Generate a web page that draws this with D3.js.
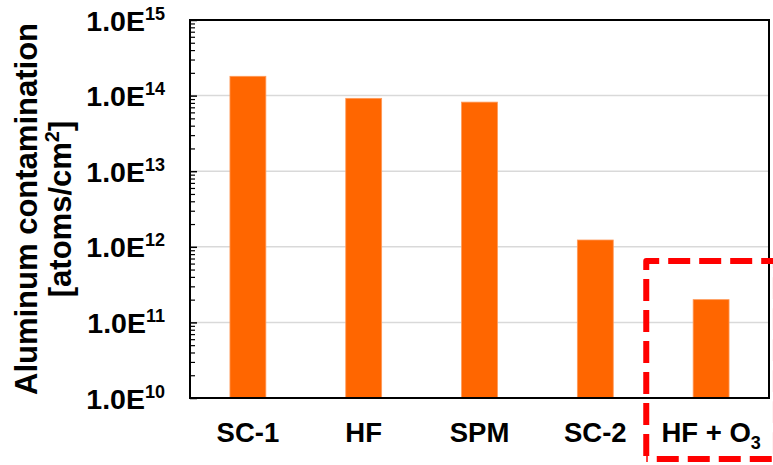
<!DOCTYPE html>
<html>
<head>
<meta charset="utf-8">
<script src="https://cdn.jsdelivr.net/npm/d3@7/dist/d3.min.js"></script>
<style>
  html, body { margin: 0; padding: 0; background: #fff; }
  svg { display: block; font-family: "Liberation Sans", Arial, sans-serif; font-weight: bold; }
</style>
</head>
<body>
<svg id="chart" width="773" height="465"></svg>
<script>
// Cleaning step applied to the wafer
const categories = ["SC-1", "HF", "SPM", "SC-2", "HF + O3"];
// Residual aluminum contamination, atoms/cm²
const contamination = [1.8e14, 9.2e13, 8.2e13, 1.23e12, 2.0e11];
// Decade ticks on the logarithmic axis
const yTicks = [1e10, 1e11, 1e12, 1e13, 1e14, 1e15];
// Step that is boxed as the highlighted result
const highlighted = "HF + O3";

const W = 773, H = 465;
const margin = { left: 190, right: 4, top: 20, bottom: 67 };
const svg = d3.select("#chart");

const x = d3.scaleBand()
  .domain(categories)
  .range([margin.left, W - margin.right])
  .paddingInner(0.69)
  .paddingOuter(0.345);

const y = d3.scaleLog()
  .domain([yTicks[0], yTicks[yTicks.length - 1]])
  .range([H - margin.bottom, margin.top]);

const x0 = margin.left, x1 = W - margin.right;
const y0 = H - margin.bottom, y1 = margin.top;

// Horizontal gridlines at each decade
svg.append("g")
  .selectAll("line")
  .data(yTicks.slice(1, -1))
  .join("line")
  .attr("x1", x0).attr("x2", x1)
  .attr("y1", d => y(d)).attr("y2", d => y(d))
  .attr("stroke", "#d9d9d9")
  .attr("stroke-width", 1.5);

// Bars
svg.append("g")
  .selectAll("rect")
  .data(categories.map((c, i) => ({ c, v: contamination[i] })))
  .join("rect")
  .attr("x", d => x(d.c))
  .attr("width", x.bandwidth())
  .attr("y", d => y(d.v))
  .attr("height", d => y0 - y(d.v))
  .attr("fill", "#ff6600")
  .attr("stroke", "#ff9a5a")
  .attr("stroke-width", 0.8);

// Frame around the plot area
svg.append("rect")
  .attr("x", x0).attr("y", y1)
  .attr("width", x1 - x0).attr("height", y0 - y1)
  .attr("fill", "none")
  .attr("stroke", "#000")
  .attr("stroke-width", 2);

// Left axis: inward major and minor ticks
const minorTicks = [];
for (let e = 10; e < 15; e++) {
  for (let m = 2; m <= 9; m++) minorTicks.push(m * Math.pow(10, e));
}
svg.append("g")
  .attr("transform", `translate(${x0},0)`)
  .call(d3.axisRight(y).tickValues(yTicks).tickSize(7).tickFormat(""))
  .call(g => g.select(".domain").remove())
  .call(g => g.selectAll(".tick line").attr("stroke", "#000").attr("stroke-width", 1.5));

svg.append("g")
  .attr("transform", `translate(${x0},0)`)
  .call(d3.axisRight(y).tickValues(minorTicks).tickSize(5).tickFormat(""))
  .call(g => g.select(".domain").remove())
  .call(g => g.selectAll(".tick line").attr("stroke", "#000").attr("stroke-width", 1.2));

// Tick labels in 1.0E<exponent> form
const yLab = svg.append("g")
  .selectAll("text")
  .data(yTicks)
  .join("text")
  .attr("x", 165)
  .attr("y", d => y(d) + 10.5)
  .attr("text-anchor", "end")
  .attr("font-size", 28.5)
  .attr("fill", "#000");
yLab.append("tspan").text("1.0E");
yLab.append("tspan")
  .attr("font-size", 18)
  .attr("dy", -11)
  .text(d => Math.round(Math.log10(d)));

// Category labels (chemical formula digits drawn as subscripts)
const xLab = svg.append("g")
  .selectAll("text")
  .data(categories)
  .join("text")
  .attr("x", d => x(d) + x.bandwidth() / 2)
  .attr("y", 442)
  .attr("text-anchor", "middle")
  .attr("font-size", 27.5)
  .attr("fill", "#000");
xLab.each(function (d) {
  const t = d3.select(this);
  const m = d.match(/^(.*O)(\d)$/);
  if (m) {
    t.append("tspan").text(m[1]);
    t.append("tspan").attr("font-size", 18).attr("dy", 7).text(m[2]);
  } else {
    t.text(d);
  }
});

// Axis title, two lines
const midY = (y0 + y1) / 2;
svg.append("text")
  .attr("transform", `translate(37,${midY}) rotate(-90)`)
  .attr("text-anchor", "middle")
  .attr("font-size", 31)
  .attr("fill", "#000")
  .text("Aluminum contamination");
const t2 = svg.append("text")
  .attr("transform", `translate(71,${midY}) rotate(-90)`)
  .attr("text-anchor", "middle")
  .attr("font-size", 31)
  .attr("fill", "#000");
t2.append("tspan").text("[atoms/cm");
t2.append("tspan").attr("font-size", 20).attr("dy", -12).text("2");
t2.append("tspan").attr("dy", 12).text("]");

// Dashed highlight around the last step
const step = x.step();
const cx = x(highlighted) + x.bandwidth() / 2;
const bx0 = cx - 0.56 * step, bx1 = cx + 0.56 * step;
const by0 = y(6.5e11), by1 = H - 6;
svg.append("path")
  .attr("d", `M${bx0},${by1}L${bx0},${by0}L${bx1},${by0}L${bx1},${by1}Z`)
  .attr("fill", "none")
  .attr("stroke", "#ff0000")
  .attr("stroke-width", 6)
  .attr("stroke-linejoin", "round")
  .attr("stroke-dasharray", "22 9")
  .attr("stroke-dashoffset", 28);
</script>
</body>
</html>
